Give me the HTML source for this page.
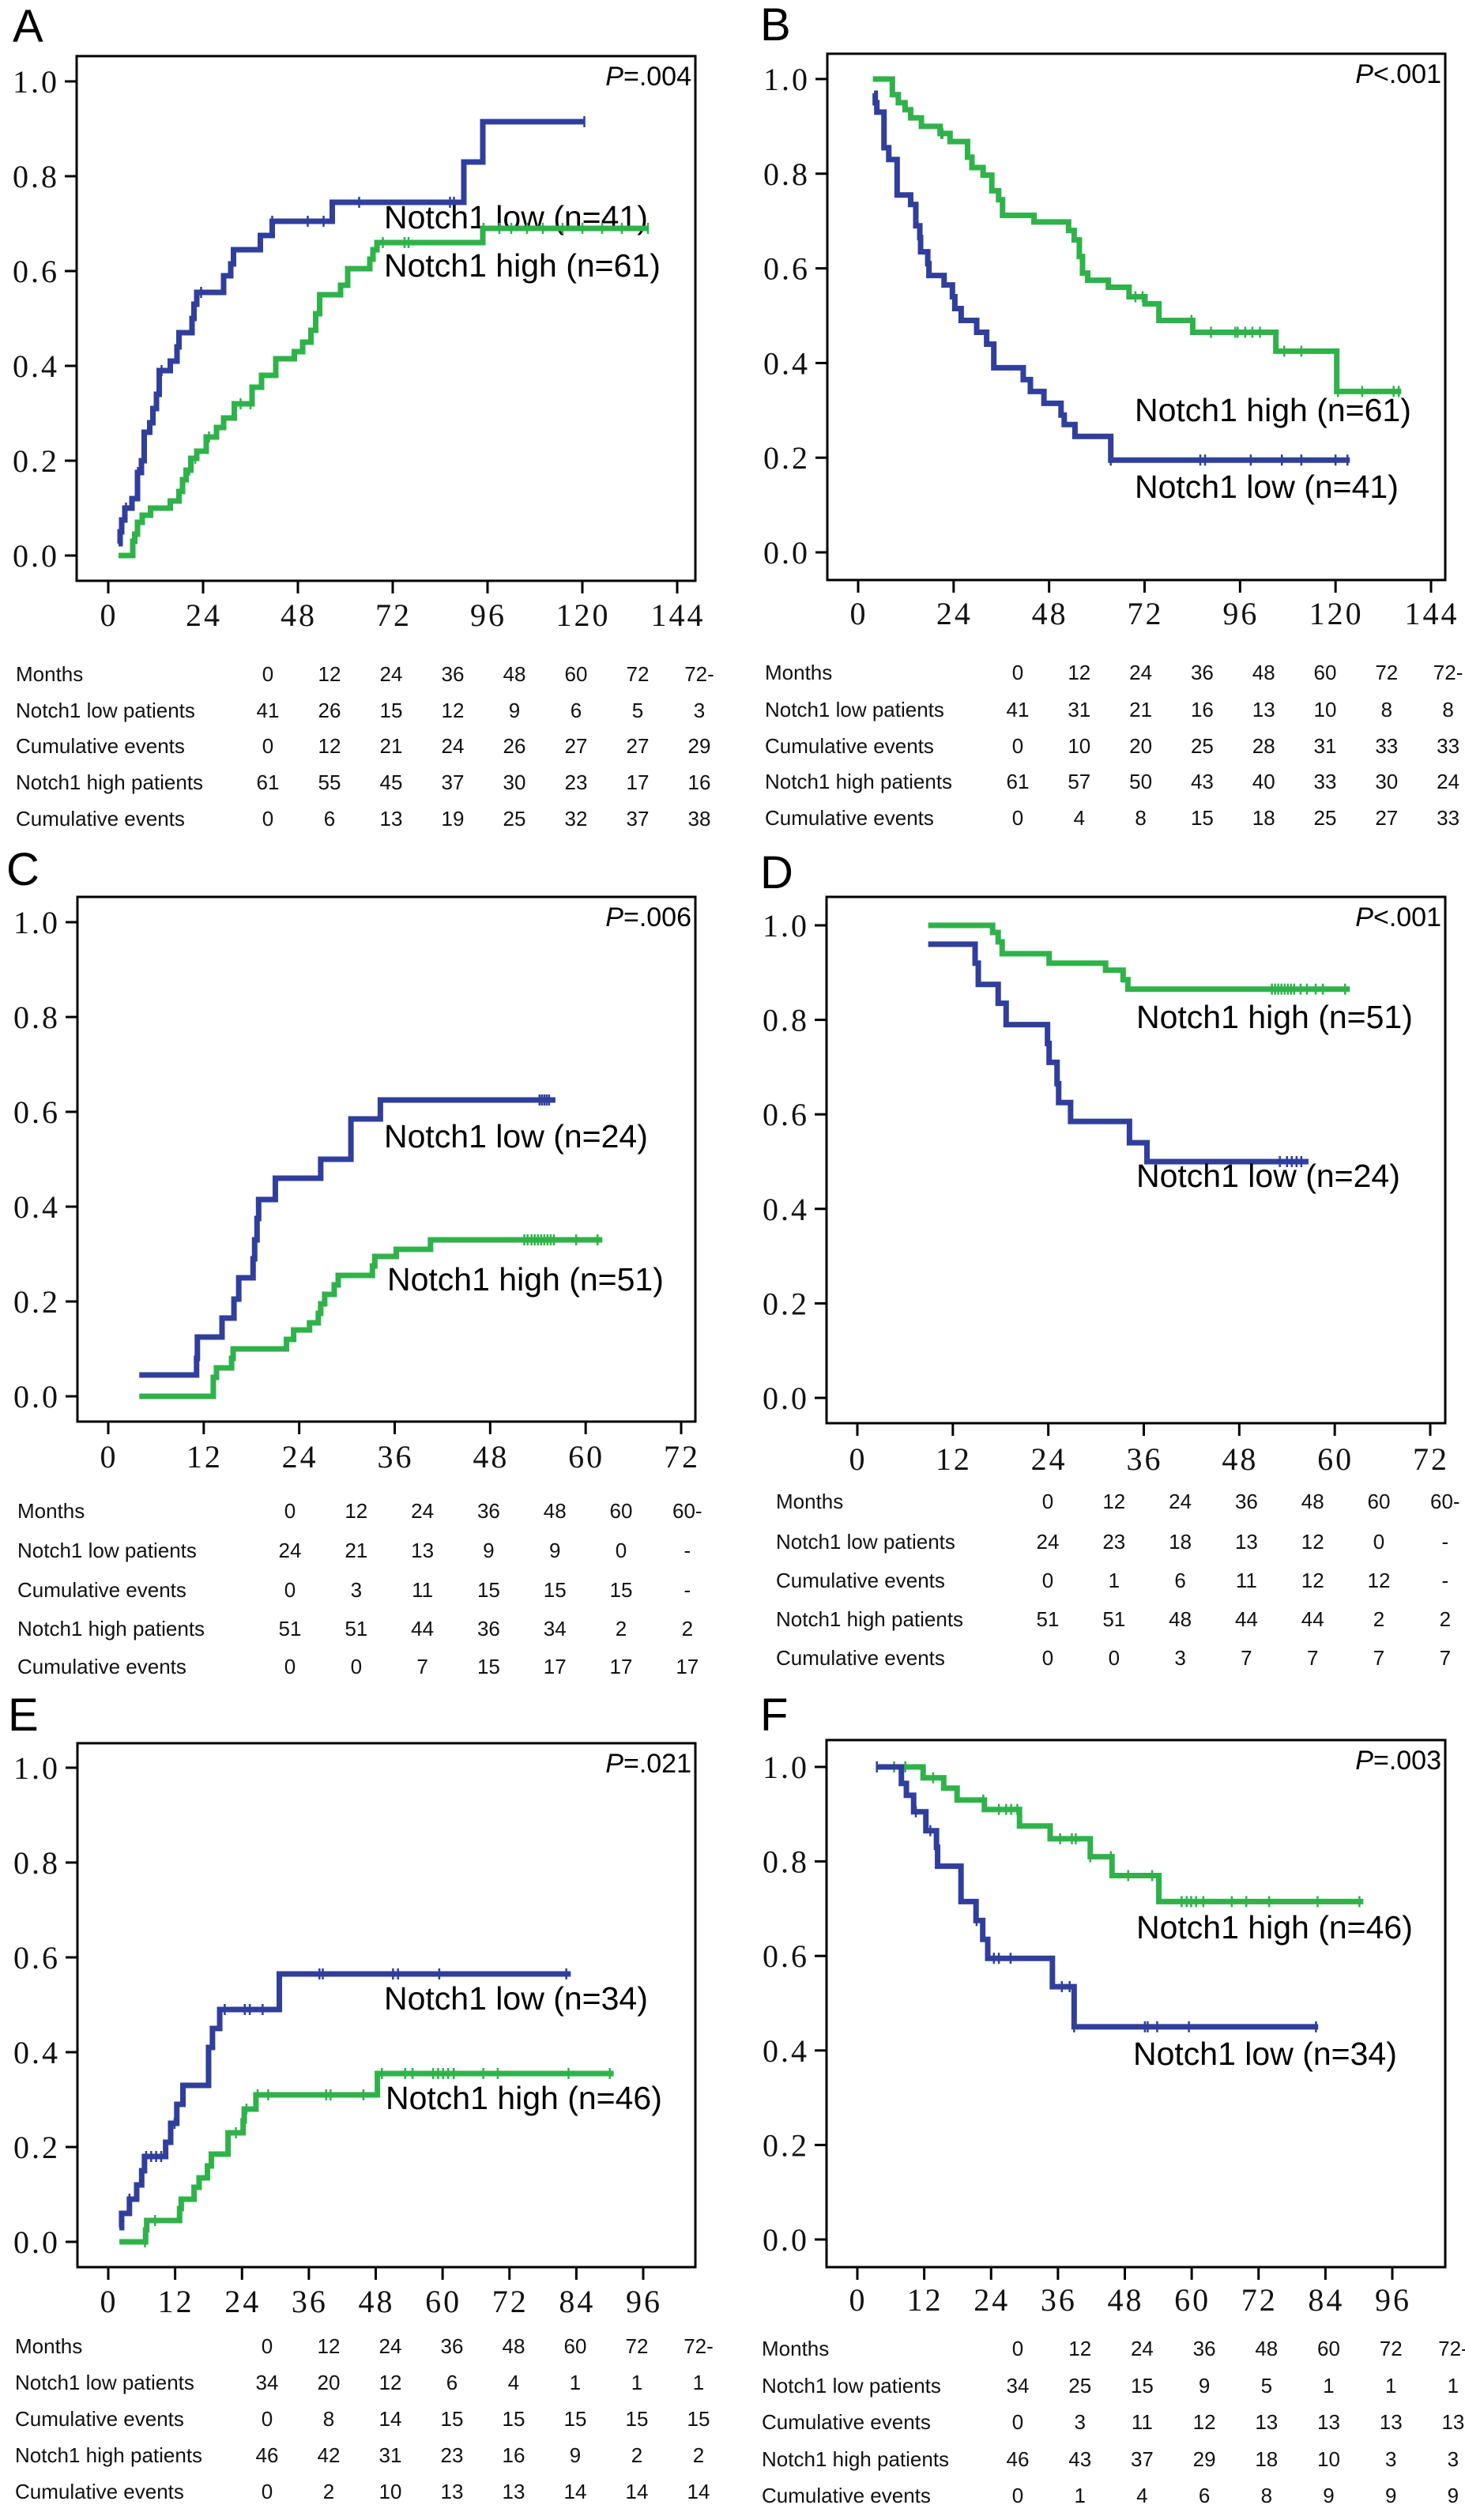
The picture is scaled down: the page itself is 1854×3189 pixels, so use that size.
<!DOCTYPE html>
<html><head><meta charset="utf-8">
<style>
html,body{margin:0;padding:0;background:#fff;}
svg{display:block;}
text{font-family:"Liberation Sans",Arial,sans-serif;}
.tick{font-family:"Liberation Serif",serif;font-size:40px;fill:#111;letter-spacing:3px;}
.tbl{font-size:26px;fill:#111;}
.leg{font-size:41px;fill:#000;}
.pv{font-size:34px;fill:#000;}
.plab{font-size:58px;fill:#000;}
</style></head>
<body>
<svg id="fig" xmlns="http://www.w3.org/2000/svg" width="1854" height="3189" viewBox="0 0 1854 3189">
<rect x="0" y="0" width="1854" height="3189" fill="#fff"/>
</svg>
<script>
// ---------- Panel A ----------
const aLowT=[2.6,3.0,3.4,4.2,6.0,7.4,8.4,9.1,10.5,11.3,12.2,12.9,15.7,17.4,17.9,21.2,21.7,22.4,29.2,31.0,31.7,38.5,41.5,56.7,90.0,94.8];
const aLowV=[0.025,0.05,0.075,0.10,0.12,0.175,0.20,0.26,0.28,0.31,0.34,0.39,0.41,0.44,0.47,0.50,0.53,0.555,0.59,0.615,0.645,0.675,0.705,0.745,0.83,0.915];
const aLowEnd=120.5;
const aLowCens=[4.5,7.5,13.5,23.5,41.5,50.5,54.5,63.5,86.5,87.5,120.5];
const aHighT=[2.6,6.2,6.7,7.4,8.6,10.7,15.7,17.9,18.8,19.7,20.9,22.4,24.8,27.4,29.2,31.9,36.4,38.8,42.4,47.1,49.2,51.3,52.5,53.5,58.8,60.6,66.2,67,68,94.8];
const aHighV=[0,0.03,0.045,0.07,0.085,0.10,0.115,0.135,0.16,0.18,0.205,0.22,0.25,0.27,0.29,0.32,0.355,0.38,0.415,0.43,0.45,0.475,0.51,0.55,0.57,0.605,0.625,0.645,0.66,0.69];
const aHighEnd=136.6;
const aHighCens=[20.5,22,25.5,33.5,36,69.5,75,76,95,99,102,106,110,115,120,125,130,136.6];
// ---------- Panel B ----------
const bLowT=[4.0,4.3,4.7,6.5,7.7,9.8,13.2,14.5,15.5,15.7,17.5,17.8,21.6,23.7,24.3,25.9,29.8,32.3,34.1,41.5,43.3,46.7,51,51.8,54.5,63.5];
const bLowV=[0.97,0.95,0.93,0.855,0.83,0.755,0.735,0.69,0.665,0.635,0.61,0.585,0.565,0.54,0.515,0.49,0.465,0.44,0.39,0.365,0.34,0.315,0.29,0.27,0.245,0.195];
const bLowEnd=123.6;
const bLowCens=[63.5,86,87.2,98.7,106.5,111.4,120,123];
const bHighT=[3.7,8.6,10.1,11.8,13.2,15.9,20.6,23.1,27.5,28.6,31.4,33.6,35.3,36.3,44.2,52.9,54.3,55.6,56.4,57.7,62.9,68.1,72.1,75.6,84.1,105,120.3];
const bHighV=[1.0,0.967,0.95,0.935,0.918,0.90,0.885,0.868,0.835,0.813,0.797,0.764,0.745,0.712,0.698,0.68,0.66,0.625,0.59,0.575,0.56,0.54,0.525,0.49,0.465,0.425,0.34];
const bHighEnd=136.5;
const bHighCens=[20.9,21.2,69.7,71.5,83.8,88.7,94.8,95.4,97.3,99.1,101,107.1,111.4,120.6,126.7,134.6,135.9];
// ---------- Panel C ----------
const cLowT=[3.9,11.1,11.2,14.3,15.8,16.4,18.2,18.4,18.7,18.9,21,26.7,30.5,34.2];
const cLowV=[0.045,0.08,0.125,0.165,0.205,0.25,0.29,0.33,0.375,0.415,0.46,0.5,0.585,0.625];
const cLowEnd=56.2;
const cLowCens=[54.2,54.5,54.8,55.1,55.4];
const cHighT=[3.9,13.2,13.6,15.5,15.7,22.4,23.3,25.3,26.4,26.7,27.2,28.4,28.9,33.2,33.5,36.2,40.5];
const cHighV=[0,0.04,0.06,0.08,0.10,0.12,0.14,0.155,0.175,0.195,0.215,0.235,0.255,0.275,0.295,0.31,0.33];
const cHighEnd=62.1;
const cHighCens=[52.3,52.7,53.2,53.6,54.0,54.4,54.8,55.2,55.6,56.0,58.8,61.5];
// ---------- Panel D ----------
const dLowT=[8.9,14.8,15.2,17.7,18.7,23.9,24.1,25.1,25.3,26.8,34.2,36.4];
const dLowV=[0.96,0.92,0.875,0.835,0.79,0.75,0.71,0.665,0.625,0.585,0.54,0.50];
const dLowEnd=56.7;
const dLowCens=[53.1,54.0,54.6,55.2,55.8];
const dHighT=[8.9,17,17.7,18.2,24.1,31.2,33.4,34];
const dHighV=[1.0,0.985,0.965,0.94,0.92,0.905,0.885,0.865];
const dHighEnd=61.9;
const dHighCens=[52.1,52.5,52.9,53.3,53.7,54.1,54.5,54.9,55.7,56.5,57.6,58.5,61.3];
// ---------- Panel E ----------
const eLowT=[2,2.4,3.8,5.1,6,6.5,10.3,11.2,12.3,13.4,18,18.7,20,30.7];
const eLowV=[0.03,0.06,0.09,0.12,0.15,0.18,0.21,0.25,0.29,0.33,0.41,0.45,0.49,0.565];
const eLowEnd=83;
const eLowCens=[3.8,6.8,7.7,8.6,9.5,11.9,20.9,24.5,25.4,27.7,37.9,38.5,51.1,52,59.4,82.2];
const eHighT=[2,6.7,6.9,12.8,13.1,15.4,16.3,17.8,18.5,21.5,24.2,24.4,26.5,48.3];
const eHighV=[0,0.025,0.045,0.07,0.09,0.115,0.135,0.16,0.185,0.23,0.255,0.28,0.31,0.355];
const eHighEnd=90.7;
const eHighCens=[6.6,8.4,22.9,24.8,26.8,28.7,39.1,39.9,45.8,49.1,53.3,54.6,58.3,59.2,60.1,61,62,67.3,69.9,82.6,90];
// ---------- Panel F ----------
const fLowT=[3.5,7.9,8.8,10.1,12.3,14.2,14.4,18.6,21.3,22.5,23.4,35,38.9];
const fLowV=[1.0,0.965,0.94,0.905,0.865,0.83,0.79,0.715,0.675,0.635,0.595,0.535,0.45];
const fLowEnd=82.7;
const fLowCens=[3.5,10.5,13.1,21.4,24.5,25.4,27.5,36.7,38.1,38.9,51.6,52.1,53.8,59.5,82.3];
const fHighT=[3.5,11.8,15.5,17.9,22.8,29.1,34.6,41.8,45.7,54.1];
const fHighV=[1.0,0.977,0.955,0.93,0.91,0.875,0.848,0.81,0.77,0.715];
const fHighEnd=90.8;
const fHighCens=[6.6,8.6,13.6,22.6,25.4,26.7,27.6,28.7,36.4,38.5,39.2,41.8,45.5,48.6,52.9,58.2,59.1,59.9,60.8,62.1,67.2,69.8,73.9,82.6,90.1];
// ---------- Tables ----------
const monthsA=["0","12","24","36","48","60","72","72-"];
const aTabLow=["41","26","15","12","9","6","5","3"];
const aTabLowEv=["0","12","21","24","26","27","27","29"];
const aTabHigh=["61","55","45","37","30","23","17","16"];
const aTabHighEv=["0","6","13","19","25","32","37","38"];
const bTabLow=["41","31","21","16","13","10","8","8"];
const bTabLowEv=["0","10","20","25","28","31","33","33"];
const bTabHigh=["61","57","50","43","40","33","30","24"];
const bTabHighEv=["0","4","8","15","18","25","27","33"];
const monthsC=["0","12","24","36","48","60","60-"];
const cTabLow=["24","21","13","9","9","0","-"];
const cTabLowEv=["0","3","11","15","15","15","-"];
const cTabHigh=["51","51","44","36","34","2","2"];
const cTabHighEv=["0","0","7","15","17","17","17"];
const dTabLow=["24","23","18","13","12","0","-"];
const dTabLowEv=["0","1","6","11","12","12","-"];
const dTabHigh=["51","51","48","44","44","2","2"];
const dTabHighEv=["0","0","3","7","7","7","7"];
const eTabLow=["34","20","12","6","4","1","1","1"];
const eTabLowEv=["0","8","14","15","15","15","15","15"];
const eTabHigh=["46","42","31","23","16","9","2","2"];
const eTabHighEv=["0","2","10","13","13","14","14","14"];
const fTabLow=["34","25","15","9","5","1","1","1"];
const fTabLowEv=["0","3","11","12","13","13","13","13"];
const fTabHigh=["46","43","37","29","18","10","3","3"];
const fTabHighEv=["0","1","4","6","8","9","9","9"];
const yTicks=["0.0","0.2","0.4","0.6","0.8","1.0"];
const xTicks144=["0","24","48","72","96","120","144"];
const xTicks72=["0","12","24","36","48","60","72"];
const xTicks96=["0","12","24","36","48","60","72","84","96"];
const rowLabels=["Months","Notch1 low patients","Cumulative events","Notch1 high patients","Cumulative events"];

const NS="http://www.w3.org/2000/svg";
const svg=document.getElementById('fig');
const BLUE="#303e9c", GREEN="#2fb24a";
function mk(tag,attrs,parent){const e=document.createElementNS(NS,tag);for(const k in attrs)e.setAttribute(k,attrs[k]);(parent||svg).appendChild(e);return e;}
function txt(parent,x,y,s,cls,anchor){const t=mk('text',{x:x,y:y,class:cls,'text-anchor':anchor||'start'},parent);t.textContent=s;return t;}

function stepVal(T,V,t){let v=V[0];for(let i=0;i<T.length;i++){if(T[i]<=t)v=V[i];}return v;}

function panel(c){
  const g=mk('g',{});
  
  
  const xs=t=>c.x0+t*(c.xmaxPx-c.x0)/c.xmax;
  const ys=v=>c.y0+v*(c.y1-c.y0);
  const lab=txt(g,c.labX,c.labY,c.id,'plab');
  
  
  const fr=mk('rect',{x:c.fl,y:c.ft,width:c.fr-c.fl,height:c.fb-c.ft,fill:'none',stroke:'#000','stroke-width':3},g);
  
  
  yTicks.forEach((s,i)=>{const v=i*0.2,y=ys(v);
    const tk=mk('line',{x1:c.fl-15,x2:c.fl,y1:y,y2:y,stroke:'#000','stroke-width':3},g);
    
    
    const tl=txt(g,c.fl-22,y+14,s,'tick','end');
    
    
  });
  c.xt.forEach((s,i)=>{const t=i*c.xstep,x=xs(t);
    const tk=mk('line',{x1:x,x2:x,y1:c.fb,y2:c.fb+16,stroke:'#000','stroke-width':3},g);
    
    
    const tl=txt(g,x+1,c.xlabY,s,'tick','middle');
    
    
  });
  const pv=mk('text',{x:c.fr-5,y:c.ft+37,class:'pv','text-anchor':'end'},g);
  
  
  const pi=mk('tspan',{'font-style':'italic'},pv);pi.textContent='P';
  const pr=mk('tspan',{},pv);pr.textContent=c.p;
  c.series.forEach(s=>{
    let d='M'+xs(s.T[0])+' '+ys(s.V[0]);
    for(let i=1;i<s.T.length;i++){d+=' H'+xs(s.T[i])+' V'+ys(s.V[i]);}
    d+=' H'+xs(s.end);
    const p=mk('path',{d:d,fill:'none',stroke:s.col,'stroke-width':7,'stroke-linejoin':'miter'},g);
    
    
    s.C.forEach(t=>{const x=xs(t),y=ys(stepVal(s.T,s.V,t));
      const m=mk('line',{x1:x,x2:x,y1:y-7,y2:y+7,stroke:s.col,'stroke-width':2.5},g);
      
      
    });
    const l=txt(g,s.lx,s.ly,s.label,'leg');
    
    
  });
  const tg=mk('g',{},g);
  
  
  const rows=[c.months].concat(c.tab);
  rows.forEach((r,ri)=>{const y=c.rowY[ri];
    const rl=txt(tg,c.tabLabX,y,rowLabels[ri],'tbl');
    
    
    r.forEach((s,ci)=>{const cell=txt(tg,c.col0+ci*c.colStep,y,s,'tbl','middle');
      
      
    });
  });
}

panel({id:'A',labX:16,labY:53,fl:97,fr:880,ft:71,fb:735,x0:137,xmax:144,xmaxPx:857,y1:103,y0:703,xt:xTicks144,xstep:24,xlabY:792,p:'=.004',
  series:[{name:'notch1-low',col:BLUE,T:aLowT,V:aLowV,end:aLowEnd,C:aLowCens,label:'Notch1 low (n=41)',lx:486,ly:289},
          {name:'notch1-high',col:GREEN,T:aHighT,V:aHighV,end:aHighEnd,C:aHighCens,label:'Notch1 high (n=61)',lx:486,ly:350}],
  months:monthsA,tab:[aTabLow,aTabLowEv,aTabHigh,aTabHighEv],rowY:[862,908,953,999,1045],tabLabX:20,col0:339,colStep:78});
panel({id:'B',labX:962,labY:51,fl:1047,fr:1829,ft:68,fb:734,x0:1086,xmax:144,xmaxPx:1811,y1:100,y0:699,xt:xTicks144,xstep:24,xlabY:790,p:'<.001',
  series:[{name:'notch1-high',col:GREEN,T:bHighT,V:bHighV,end:bHighEnd,C:bHighCens,label:'Notch1 high (n=61)',lx:1436,ly:533},
          {name:'notch1-low',col:BLUE,T:bLowT,V:bLowV,end:bLowEnd,C:bLowCens,label:'Notch1 low (n=41)',lx:1436,ly:630}],
  months:monthsA,tab:[bTabLow,bTabLowEv,bTabHigh,bTabHighEv],rowY:[860,907,953,998,1044],tabLabX:968,col0:1288,colStep:77.8});
panel({id:'C',labX:8,labY:1120,fl:98,fr:880,ft:1135,fb:1799,x0:137,xmax:72,xmaxPx:862,y1:1167,y0:1767,xt:xTicks72,xstep:12,xlabY:1857,p:'=.006',
  series:[{name:'notch1-low',col:BLUE,T:cLowT,V:cLowV,end:cLowEnd,C:cLowCens,label:'Notch1 low (n=24)',lx:486,ly:1452},
          {name:'notch1-high',col:GREEN,T:cHighT,V:cHighV,end:cHighEnd,C:cHighCens,label:'Notch1 high (n=51)',lx:490,ly:1633}],
  months:monthsC,tab:[cTabLow,cTabLowEv,cTabHigh,cTabHighEv],rowY:[1921,1971,2021,2070,2118],tabLabX:22,col0:367,colStep:83.8});
panel({id:'D',labX:962,labY:1124,fl:1046,fr:1829,ft:1135,fb:1801,x0:1085,xmax:72,xmaxPx:1810,y1:1171,y0:1769,xt:xTicks72,xstep:12,xlabY:1860,p:'<.001',
  series:[{name:'notch1-high',col:GREEN,T:dHighT,V:dHighV,end:dHighEnd,C:dHighCens,label:'Notch1 high (n=51)',lx:1438,ly:1301},
          {name:'notch1-low',col:BLUE,T:dLowT,V:dLowV,end:dLowEnd,C:dLowCens,label:'Notch1 low (n=24)',lx:1438,ly:1502}],
  months:monthsC,tab:[dTabLow,dTabLowEv,dTabHigh,dTabHighEv],rowY:[1909,1960,2009,2058,2107],tabLabX:982,col0:1326,colStep:83.8});
panel({id:'E',labX:10,labY:2190,fl:98,fr:880,ft:2206,fb:2869,x0:137,xmax:96,xmaxPx:814,y1:2237,y0:2837,xt:xTicks96,xstep:12,xlabY:2926,p:'=.021',
  series:[{name:'notch1-low',col:BLUE,T:eLowT,V:eLowV,end:eLowEnd,C:eLowCens,label:'Notch1 low (n=34)',lx:486,ly:2543},
          {name:'notch1-high',col:GREEN,T:eHighT,V:eHighV,end:eHighEnd,C:eHighCens,label:'Notch1 high (n=46)',lx:488,ly:2669}],
  months:monthsA,tab:[eTabLow,eTabLowEv,eTabHigh,eTabHighEv],rowY:[2978,3024,3070,3116,3162],tabLabX:19,col0:338,colStep:78});
panel({id:'F',labX:962,labY:2190,fl:1046,fr:1829,ft:2202,fb:2869,x0:1085,xmax:96,xmaxPx:1762,y1:2236,y0:2834,xt:xTicks96,xstep:12,xlabY:2924,p:'=.003',
  series:[{name:'notch1-high',col:GREEN,T:fHighT,V:fHighV,end:fHighEnd,C:fHighCens,label:'Notch1 high (n=46)',lx:1438,ly:2453},
          {name:'notch1-low',col:BLUE,T:fLowT,V:fLowV,end:fLowEnd,C:fLowCens,label:'Notch1 low (n=34)',lx:1434,ly:2613}],
  months:monthsA,tab:[fTabLow,fTabLowEv,fTabHigh,fTabHighEv],rowY:[2981,3028,3074,3121,3167],tabLabX:964,col0:1288,colStep:78.7});
</script>
</body></html>
